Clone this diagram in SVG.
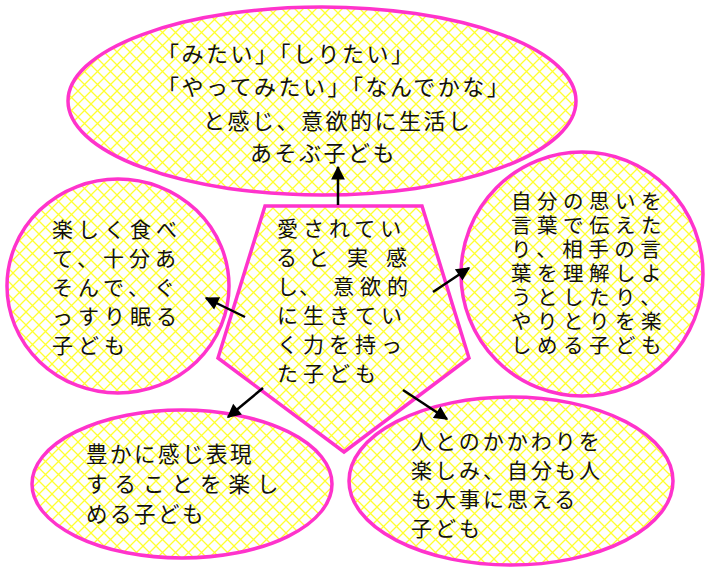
<svg xmlns="http://www.w3.org/2000/svg" width="708" height="568" viewBox="0 0 708 568">
<defs>
<pattern id="lattice" patternUnits="userSpaceOnUse" width="13" height="13">
<rect width="13" height="13" fill="#ffffff"/>
<path d="M0,0 L13,13 M13,0 L0,13" stroke="#ffff30" stroke-width="1.3" fill="none"/>
</pattern>
<marker id="ah" viewBox="0 0 10 10" refX="9" refY="5" markerWidth="6" markerHeight="5.5" orient="auto" markerUnits="strokeWidth">
<path d="M0,0 L10,5 L0,10 Z" fill="#000"/>
</marker>
<style>
.shape{fill:url(#lattice);stroke:#ff33cc;stroke-width:3.5}
.t{font-family:"Liberation Sans","Noto Sans CJK JP","Noto Sans CJK SC",sans-serif;fill:#111}
.conn{stroke:#000;stroke-width:2.5;fill:none;marker-end:url(#ah)}
</style>
</defs>
<rect width="708" height="568" fill="#ffffff"/>

<g id="node-top">
<ellipse class="shape" cx="322" cy="101" rx="254" ry="94"/>
<text class="t" font-size="22" letter-spacing="2.5">
<tspan x="157" y="62">「みたい」「しりたい」</tspan>
<tspan x="157" y="95">「やってみたい」「なんでかな」</tspan>
<tspan x="203" y="129">と感じ、意欲的に生活し</tspan>
<tspan x="250" y="161">あそぶ子ども</tspan>
</text>
</g>

<g id="node-left">
<ellipse class="shape" cx="118" cy="286" rx="111" ry="107"/>
<text class="t" font-size="21" letter-spacing="5">
<tspan x="52" y="237">楽しく食べ</tspan>
<tspan x="52" y="266">て、十分あ</tspan>
<tspan x="52" y="295">そんで、ぐ</tspan>
<tspan x="52" y="324">っすり眠る</tspan>
<tspan x="52" y="353">子ども</tspan>
</text>
</g>

<g id="node-right">
<ellipse class="shape" cx="582" cy="274" rx="121" ry="122"/>
<text class="t" font-size="20.5" letter-spacing="5.5">
<tspan x="511" y="209">自分の思いを</tspan>
<tspan x="511" y="233">言葉で伝えた</tspan>
<tspan x="511" y="257">り、相手の言</tspan>
<tspan x="511" y="281">葉を理解しよ</tspan>
<tspan x="511" y="305">うとしたり、</tspan>
<tspan x="511" y="329">やりとりを楽</tspan>
<tspan x="511" y="353">しめる子ども</tspan>
</text>
</g>

<g id="node-bottom-left">
<ellipse class="shape" cx="182" cy="484" rx="150" ry="74"/>
<text class="t" font-size="21.5">
<tspan x="86" y="462" letter-spacing="2.5">豊かに感じ表現</tspan>
<tspan x="86" y="492" letter-spacing="7">することを楽し</tspan>
<tspan x="86" y="522" letter-spacing="2.5">める子ども</tspan>
</text>
</g>

<g id="node-bottom-right">
<ellipse class="shape" cx="511" cy="481" rx="162" ry="84"/>
<text class="t" font-size="21" letter-spacing="3">
<tspan x="411" y="449">人とのかかわりを</tspan>
<tspan x="411" y="478">楽しみ、自分も人</tspan>
<tspan x="411" y="507">も大事に思える</tspan>
<tspan x="411" y="536">子ども</tspan>
</text>
</g>

<g id="node-center">
<polygon class="shape" points="265,206 422,206 469,358 344,452 218,358"/>
<text class="t" font-size="21" letter-spacing="5">
<tspan x="277" y="236">愛されてい</tspan>
<tspan x="276" y="265" letter-spacing="0">る</tspan><tspan x="308" y="265" letter-spacing="0">と</tspan><tspan x="347" y="265" letter-spacing="0">実</tspan><tspan x="386" y="265" letter-spacing="0">感</tspan>
<tspan x="277" y="294" letter-spacing="0">し</tspan><tspan x="299" y="294" letter-spacing="0">、</tspan><tspan x="333" y="294" letter-spacing="6">意欲的</tspan>
<tspan x="277" y="323">に生きてい</tspan>
<tspan x="277" y="352">く力を持っ</tspan>
<tspan x="277" y="381">た子ども</tspan>
</text>
</g>

<g id="connectors">
<line class="conn" x1="338" y1="205" x2="338" y2="167"/>
<line class="conn" x1="245" y1="317" x2="206" y2="298"/>
<line class="conn" x1="433" y1="292" x2="469" y2="268"/>
<line class="conn" x1="263" y1="388" x2="228" y2="417"/>
<line class="conn" x1="403" y1="390" x2="447" y2="419"/>
</g>
</svg>
